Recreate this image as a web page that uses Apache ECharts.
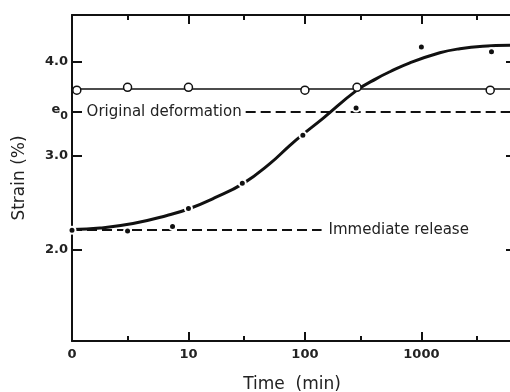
<!DOCTYPE html>
<html>
<head>
<meta charset="utf-8">
<script src="https://cdn.jsdelivr.net/npm/echarts@6/dist/echarts.min.js"></script>
<style>html,body{margin:0;padding:0;background:#fff;}#c{width:510px;height:392px;}</style>
</head>
<body>
<div id="c"></div>
<script>
// ---- data ----
const timeMajorTicks = [1, 10, 100, 1000];
const timeMinorTicks = [3, 30, 300, 3000];
const strainTicks = [2, 3, 4];
const e0 = 3.47;
const circleLevel = 3.706;
const releaseLevel = 2.21;
const deformLineStart = 31;     // time where dashed "original deformation" line begins
const releaseLineEnd = 139;     // time where dashed "immediate release" line ends

const dotTime   = [1, 3, 7.3, 10, 29, 96, 275, 1000, 4000];
const dotStrain = [2.21, 2.20, 2.25, 2.44, 2.71, 3.22, 3.51, 4.16, 4.11];

const circleTime   = [1.1, 3, 10, 100, 280, 3900];
const circleStrain = [3.70, 3.73, 3.73, 3.70, 3.73, 3.70];

const curveTime   = [1, 1.74, 3.34, 6.54, 10, 16.9, 29.4, 50, 74, 96, 143, 280, 415, 537, 797, 1440, 2140, 3370, 6000];
const curveStrain = [2.216, 2.232, 2.28, 2.366, 2.435, 2.555, 2.705, 2.918, 3.11, 3.229, 3.40, 3.70, 3.826, 3.896, 3.991, 4.098, 4.141, 4.167, 4.178];

const xMin = 1, xMax = 6000, yMin = 1.03, yMax = 4.5;

const ink = '#111';
const txt = '#222';
const font = 'DejaVu Sans';

const zip = (a, b) => a.map((v, i) => [v, b[i]]);

const chart = echarts.init(document.getElementById('c'), null, {renderer: 'canvas'});

function xAx(pos, major) {
  return {
    type: 'log', logBase: 10, min: xMin, max: xMax, position: pos,
    axisLine: {show: major, lineStyle: {color: ink, width: 2}},
    axisTick: {show: true, inside: true, length: major ? 9 : 5,
      customValues: major ? timeMajorTicks.slice(1) : timeMinorTicks,
      lineStyle: {color: ink, width: 2}},
    axisLabel: {show: major && pos === 'bottom', customValues: timeMajorTicks,
      formatter: v => (Math.abs(v - 1) < 1e-9 ? '0' : String(Math.round(v))),
      color: txt, fontFamily: font, fontWeight: 'bold', fontSize: 13, margin: 7},
    splitLine: {show: false}, minorTick: {show: false},
    name: (major && pos === 'bottom') ? 'Time  (min)' : '',
    nameLocation: 'middle', nameGap: 35,
    nameTextStyle: {color: txt, fontFamily: font, fontSize: 17}
  };
}

const yLabelVals = strainTicks.concat([e0]);

const option = {
  animation: false,
  backgroundColor: '#fff',
  grid: {left: 72, top: 15, right: -2, bottom: 51, containLabel: false, outerBoundsMode: 'none'},
  xAxis: [xAx('bottom', true), xAx('bottom', false), xAx('top', true), xAx('top', false)],
  yAxis: [
    {
      type: 'value', min: yMin, max: yMax, position: 'left',
      axisLine: {show: true, lineStyle: {color: ink, width: 2}},
      axisTick: {show: true, inside: true, length: 10, customValues: yLabelVals, lineStyle: {color: ink, width: 2}},
      axisLabel: {
        customValues: yLabelVals, margin: 4, color: txt, fontFamily: font, fontWeight: 'bold', fontSize: 13,
        formatter: v => (Math.abs(v - e0) < 1e-9 ? '{e|e}{s|0}' : v.toFixed(1)),
        rich: {
          e: {fontFamily: font, fontWeight: 'bold', fontSize: 13, color: txt, padding: [0, 0, 4, 0]},
          s: {fontFamily: font, fontWeight: 'bold', fontSize: 11, color: txt, padding: [8, 0, 0, 0]}
        }
      },
      splitLine: {show: false},
      name: 'Strain (%)', nameLocation: 'middle', nameRotate: 90, nameGap: 44,
      nameTextStyle: {color: txt, fontFamily: font, fontSize: 17}
    },
    {
      type: 'value', min: yMin, max: yMax, position: 'right',
      axisLine: {show: true, lineStyle: {color: ink, width: 2}},
      axisTick: {show: true, inside: true, length: 6, customValues: strainTicks, lineStyle: {color: ink, width: 2}},
      axisLabel: {show: false}, splitLine: {show: false}
    }
  ],
  series: [
    {
      name: 'creep curve', type: 'line', xAxisIndex: 0, yAxisIndex: 0,
      data: zip(curveTime, curveStrain), smooth: 0.45, showSymbol: false, symbol: 'none',
      lineStyle: {color: ink, width: 3}, z: 3,
      markLine: {
        silent: true, symbol: ['none', 'none'], z: 2,
        lineStyle: {color: ink, width: 2, type: [10, 5]},
        data: [
          [
            {coord: [deformLineStart, e0], label: {show: true, position: 'start', formatter: 'Original deformation', distance: 4,
              color: txt, fontFamily: font, fontSize: 15}},
            {coord: [xMax, e0]}
          ],
          [
            {coord: [xMin, releaseLevel], label: {show: true, position: 'end', formatter: 'Immediate release', distance: 7,
              color: txt, fontFamily: font, fontSize: 15}},
            {coord: [releaseLineEnd, releaseLevel]}
          ]
        ]
      }
    },
    {
      name: 'recovered', type: 'scatter', xAxisIndex: 0, yAxisIndex: 0,
      data: zip(circleTime, circleStrain), symbol: 'circle', symbolSize: 8,
      itemStyle: {color: '#fff', borderColor: ink, borderWidth: 1.5, opacity: 1}, z: 6,
      markLine: {
        silent: true, symbol: ['none', 'none'], z: 1,
        lineStyle: {color: ink, width: 1.5, type: 'solid'},
        label: {show: false},
        data: [{yAxis: circleLevel}]
      }
    },
    {
      name: 'measured', type: 'scatter', xAxisIndex: 0, yAxisIndex: 0,
      data: zip(dotTime, dotStrain), symbol: 'circle', symbolSize: 7,
      itemStyle: {color: ink, borderColor: '#fff', borderWidth: 2, opacity: 1}, z: 5
    }
  ]
};
chart.setOption(option);
</script>
</body>
</html>
